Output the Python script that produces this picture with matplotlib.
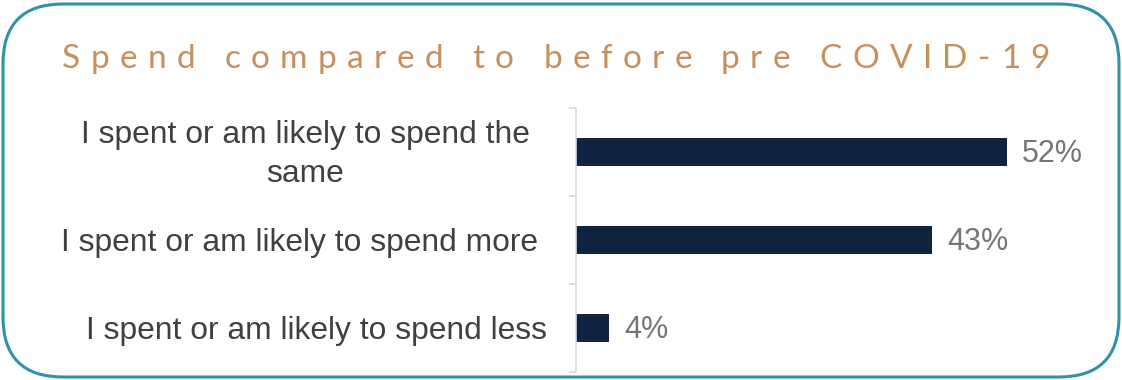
import matplotlib
matplotlib.use("Agg")
import matplotlib.pyplot as plt
import matplotlib.patches as mpatches
from matplotlib.transforms import IdentityTransform, blended_transform_factory, offset_copy

# survey answers, bottom to top
categories = [
    "I spent or am likely to spend less",
    "I spent or am likely to spend more",
    "I spent or am likely to spend the\nsame",
]
shares = [4, 43, 52]
title = "Spend compared to before pre COVID-19"

W, H, DPI = 1122, 380, 100
BAR = "#0D233F"
LABEL = "#404040"
VALUE = "#767676"
AXIS = "#D9D9D9"
TEAL = "#3092A6"
TAN = "#C68F5C"

plt.rcParams["font.family"] = ["Liberation Sans", "DejaVu Sans"]

fig = plt.figure(figsize=(W / DPI, H / DPI), dpi=DPI)
fig.patch.set_facecolor("white")

# plot area in pixels (left, top, right, bottom measured from top-left)
px_l, px_t, px_r, px_b = 576, 108, 1110, 372
ax = fig.add_axes([px_l / W, (H - px_b) / H, (px_r - px_l) / W, (px_b - px_t) / H])

y = range(len(categories))
ax.barh(y, shares, height=0.31, color=BAR)
ax.set_xlim(0, (px_r - px_l) / 8.29)
ax.set_ylim(-0.5, len(categories) - 0.5)

for yi, v in zip(y, shares):
    ax.annotate(f"{v}%", (v, yi), xytext=(15, -2), textcoords="offset pixels",
                ha="left", va="center", fontsize=22, color=VALUE)

# category labels to the left of the axis; wrapped label is centred in its box
lab_tr = offset_copy(blended_transform_factory(IdentityTransform(), ax.transData),
                     fig=fig, y=-2.5, units="dots")
label_anchor = [(547, "right"), (538, "right"), (305, "center")]
for yi, lab, (lx, ha) in zip(y, categories, label_anchor):
    ax.text(lx, yi, lab, transform=lab_tr, ha=ha, va="center",
            multialignment="center", fontsize=22.9, color=LABEL, linespacing=1.35)

for s in ("top", "right", "bottom"):
    ax.spines[s].set_visible(False)
ax.spines["left"].set_color(AXIS)
ax.spines["left"].set_linewidth(1.2)
ax.set_xticks([])
ax.set_yticks([])
ax.set_yticks([-0.5, 0.5, 1.5, 2.5], minor=True)
ax.tick_params(axis="y", which="minor", length=5, width=1.2, color=AXIS, labelleft=False)
ax.set_facecolor("none")

# rounded frame around the whole card
frame = mpatches.FancyBboxPatch((3, 3), W - 6, H - 7,
                                boxstyle="round,pad=0,rounding_size=60",
                                transform=IdentityTransform(), fill=False,
                                edgecolor=TEAL, linewidth=2.2)
fig.patches.append(frame)

# letter-spaced title, one glyph at a time
renderer = fig.canvas.get_renderer()
tkw = dict(fontsize=24, color=TAN, family=["Lato", "DejaVu Sans"])
widths = []
for ch in title:
    t = fig.text(0, 0, ch if ch != " " else "a a", **tkw)
    w = t.get_window_extent(renderer).width
    if ch == " ":
        t2 = fig.text(0, 0, "aa", **tkw)
        w -= t2.get_window_extent(renderer).width
        t2.remove()
    t.remove()
    widths.append(w)
x_start, x_end = 62, 1050
track = (x_end - x_start - sum(widths)) / (len(title) - 1)
x = x_start
for ch, w in zip(title, widths):
    if ch != " ":
        fig.text(x, H - 68, ch, transform=IdentityTransform(), ha="left",
                 va="baseline", **tkw)
    x += w + track

fig.savefig("out.png", dpi=DPI, facecolor="white")
